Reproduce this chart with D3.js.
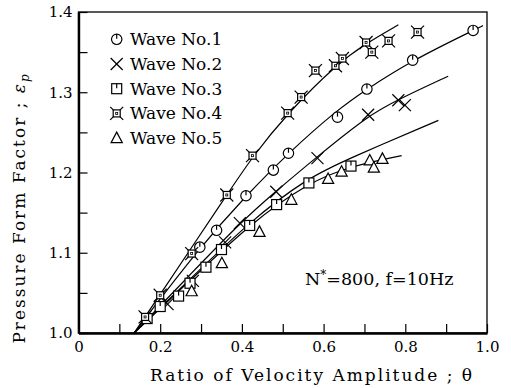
<!DOCTYPE html>
<html>
<head>
<meta charset="utf-8">
<script src="https://cdnjs.cloudflare.com/ajax/libs/d3/7.8.5/d3.min.js"></script>
<style>
  body { margin: 0; background: #fff; }
  svg { display: block; font-family: "DejaVu Serif", serif; }
</style>
</head>
<body>
<div id="chart"></div>
<script>
const wave1 = [[0.297,1.107],[0.338,1.128],[0.410,1.171],[0.477,1.203],[0.514,1.224],[0.634,1.269],[0.706,1.304],[0.818,1.340],[0.966,1.377]];
const wave2 = [[0.218,1.036],[0.280,1.065],[0.359,1.113],[0.395,1.137],[0.484,1.176],[0.585,1.218],[0.709,1.272],[0.783,1.290],[0.799,1.284]];
const wave3 = [[0.168,1.018],[0.200,1.033],[0.245,1.046],[0.273,1.062],[0.312,1.082],[0.350,1.104],[0.419,1.134],[0.485,1.160],[0.564,1.187],[0.667,1.208]];
const wave4 = [[0.163,1.020],[0.200,1.047],[0.277,1.099],[0.363,1.172],[0.426,1.221],[0.512,1.274],[0.545,1.294],[0.580,1.327],[0.629,1.333],[0.646,1.342],[0.704,1.362],[0.718,1.350],[0.759,1.364],[0.830,1.375]];
const wave5 = [[0.277,1.052],[0.351,1.087],[0.443,1.126],[0.521,1.166],[0.611,1.192],[0.644,1.201],[0.713,1.215],[0.723,1.206],[0.744,1.217]];

// fitted curves drawn through the data
const curve1 = [[0.136,1.0],[0.297,1.107],[0.410,1.171],[0.513,1.224],[0.633,1.278],[0.706,1.304],[0.818,1.340],[0.966,1.377],[0.990,1.383]];
const curve2 = [[0.136,1.0],[0.270,1.071],[0.395,1.137],[0.484,1.177],[0.585,1.220],[0.709,1.271],[0.783,1.291],[0.905,1.320]];
const curve3 = [[0.136,1.0],[0.273,1.067],[0.417,1.138],[0.559,1.193],[0.665,1.218],[0.881,1.265]];
const curve4 = [[0.136,1.0],[0.200,1.048],[0.363,1.172],[0.426,1.220],[0.514,1.275],[0.630,1.334],[0.704,1.361],[0.783,1.384]];
const curve5 = [[0.136,1.0],[0.273,1.065],[0.417,1.135],[0.564,1.188],[0.667,1.208],[0.791,1.221]];

const seriesNames = ["Wave No.1", "Wave No.2", "Wave No.3", "Wave No.4", "Wave No.5"];
const seriesMarkers = ["circle", "cross", "square", "xsquare", "triangle"];

const xTicks = [0, 0.2, 0.4, 0.6, 0.8, 1.0];
const xTickLabels = ["0", "0.2", "0.4", "0.6", "0.8", "1.0"];
const xMinorTicks = [0.1, 0.3, 0.5, 0.7, 0.9];
const yTicks = [1.0, 1.1, 1.2, 1.3, 1.4];
const yTickLabels = ["1.0", "1.1", "1.2", "1.3", "1.4"];
const yMinorTicks = [1.05, 1.15, 1.25, 1.35];

const svgWidth = 511, svgHeight = 388;
const plot = { left: 78.5, right: 487, top: 12, bottom: 333 };

const svg = d3.select("#chart").append("svg")
  .attr("width", svgWidth)
  .attr("height", svgHeight);

const x = d3.scaleLinear().domain([0, 1]).range([plot.left, plot.right]);
const y = d3.scaleLinear().domain([1.0, 1.4]).range([plot.bottom, plot.top]);

// frame: thin top/right, heavy left/bottom
svg.append("rect")
  .attr("x", plot.left).attr("y", plot.top)
  .attr("width", plot.right - plot.left).attr("height", plot.bottom - plot.top)
  .attr("fill", "none").attr("stroke", "#000").attr("stroke-width", 1.3);

// axes with inward ticks
const tickLen = 9;
svg.append("g")
  .attr("transform", `translate(0,${plot.bottom})`)
  .call(d3.axisBottom(x).tickValues(xTicks).tickSizeInner(-tickLen).tickSizeOuter(0).tickPadding(8)
    .tickFormat((d, i) => xTickLabels[i]));
svg.append("g")
  .attr("transform", `translate(0,${plot.bottom})`)
  .call(d3.axisBottom(x).tickValues(xMinorTicks).tickSizeInner(-tickLen).tickSizeOuter(0).tickFormat(""))
  .select(".domain").remove();

svg.append("g")
  .attr("transform", `translate(${plot.left},0)`)
  .call(d3.axisLeft(y).tickValues(yTicks).tickSizeInner(-tickLen).tickSizeOuter(0).tickPadding(6)
    .tickFormat((d, i) => yTickLabels[i]));
svg.append("g")
  .attr("transform", `translate(${plot.left},0)`)
  .call(d3.axisLeft(y).tickValues(yMinorTicks).tickSizeInner(-tickLen).tickSizeOuter(0).tickFormat(""))
  .select(".domain").remove();

svg.selectAll(".domain").attr("stroke", "#000").attr("stroke-width", 2.4);
svg.selectAll(".tick line").attr("stroke", "#000").attr("stroke-width", 1.2);
svg.selectAll(".tick text")
  .attr("fill", "#000")
  .style("font-family", "'DejaVu Serif', serif")
  .style("font-size", "15px");

// fitted curves (smooth spline through the read-off control points)
const line = d3.line()
  .x(d => x(d[0]))
  .y(d => y(d[1]))
  .curve(d3.curveBasis);

svg.append("g").selectAll("path")
  .data([curve1, curve2, curve3, curve4, curve5])
  .enter().append("path")
  .attr("d", line)
  .attr("fill", "none")
  .attr("stroke", "#000")
  .attr("stroke-width", 1.2);

// marker drawing
function drawMarker(g, type) {
  g.attr("fill", "#fff").attr("stroke", "#000").attr("stroke-width", 1.2);
  if (type === "circle") {
    g.append("circle").attr("r", 5.2);
    g.append("line").attr("x1", 0).attr("y1", -5).attr("x2", 0).attr("y2", -0.5);
  } else if (type === "cross") {
    g.append("line").attr("x1", -6).attr("y1", -6).attr("x2", 6).attr("y2", 6);
    g.append("line").attr("x1", -6).attr("y1", 6).attr("x2", 6).attr("y2", -6);
  } else if (type === "square") {
    g.append("rect").attr("x", -5).attr("y", -5).attr("width", 10).attr("height", 10);
    g.append("line").attr("x1", 0).attr("y1", -5).attr("x2", 0).attr("y2", -0.5);
  } else if (type === "xsquare") {
    [[-1, -1], [1, -1], [1, 1], [-1, 1]].forEach(c => {
      g.append("line").attr("x1", c[0] * 3.2).attr("y1", c[1] * 3.2)
        .attr("x2", c[0] * 6.5).attr("y2", c[1] * 6.5);
    });
    g.append("rect").attr("x", -3.5).attr("y", -3.5).attr("width", 7).attr("height", 7);
    g.append("rect").attr("x", -1).attr("y", -1).attr("width", 2).attr("height", 2)
      .attr("stroke-width", 0.8);
  } else if (type === "triangle") {
    g.append("path").attr("d", "M0,-6L5.6,4.5L-5.6,4.5Z").attr("stroke-linejoin", "miter");
  }
}

const allWaves = [wave1, wave2, wave3, wave4, wave5];
allWaves.forEach((wave, si) => {
  svg.append("g").selectAll("g")
    .data(wave)
    .enter().append("g")
    .attr("transform", d => `translate(${x(d[0])},${y(d[1])})`)
    .each(function() { drawMarker(d3.select(this), seriesMarkers[si]); });
});

// legend
const legend = svg.append("g");
seriesNames.forEach((name, i) => {
  const cy = 39.3 + i * 24.7;
  const m = legend.append("g").attr("transform", `translate(116.7,${cy})`);
  drawMarker(m, seriesMarkers[i]);
  legend.append("text")
    .attr("x", 130).attr("y", cy + 6)
    .style("font-size", "17px")
    .text(name);
});

// annotation
const note = svg.append("text")
  .attr("x", 305).attr("y", 285)
  .style("font-size", "17.5px");
note.append("tspan").text("N");
note.append("tspan").attr("dy", -6).style("font-size", "12px").text("*");
note.append("tspan").attr("dy", 6).text("=800, f=10Hz");

// axis titles
svg.append("text")
  .attr("x", 150).attr("y", 381)
  .style("font-size", "17px")
  .style("letter-spacing", "2px")
  .text("Ratio of Velocity Amplitude ; θ");

const yTitle = svg.append("text")
  .attr("transform", "translate(25,208) rotate(-90)")
  .attr("text-anchor", "middle")
  .style("font-size", "17px")
  .style("letter-spacing", "2px");
yTitle.append("tspan").text("Pressure Form Factor ; ");
yTitle.append("tspan").style("font-style", "italic").text("ε");
yTitle.append("tspan").attr("dy", 4).style("font-size", "12px").style("font-style", "italic").text("p");
</script>
</body>
</html>
